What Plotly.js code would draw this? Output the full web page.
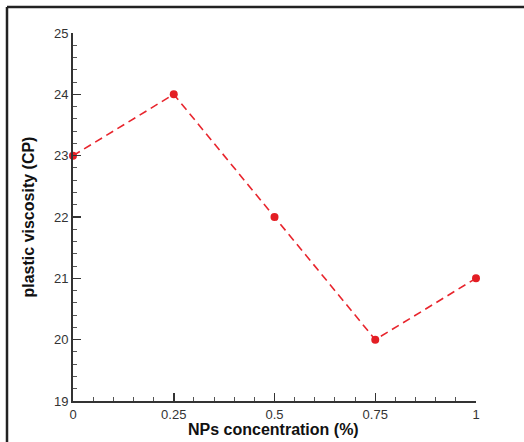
<!DOCTYPE html>
<html>
<head>
<meta charset="utf-8">
<script src="https://cdn.plot.ly/plotly-3.0.1.min.js"></script>
<style>
html,body{margin:0;padding:0;background:#fff;}
#chart{width:524px;height:442px;}
</style>
</head>
<body>
<div id="chart"></div>
<script>
var concentration = [0, 0.25, 0.5, 0.75, 1];
var viscosity = [23, 24, 22, 20, 21];
var xTickVals = [0, 0.25, 0.5, 0.75, 1];
var xTickText = ['0', '0.25', '0.5', '0.75', '1'];
var yTickVals = [19, 20, 21, 22, 23, 24, 25];
var xTitle = 'NPs concentration (%)';
var yTitle = 'plastic viscosity (CP)';

var trace = {
  x: concentration,
  y: viscosity,
  type: 'scatter',
  mode: 'lines+markers',
  cliponaxis: false,
  line: {color: '#e8252d', width: 1.6, dash: '8px,5px'},
  marker: {color: '#e31e24', size: 8},
  hoverinfo: 'none'
};

var axisFont = {family: 'Liberation Sans, Arial, sans-serif', size: 13, color: '#333'};
var titleFont = {family: 'Liberation Sans, Arial, sans-serif', size: 16, color: '#111', weight: 'bold'};

var W = 403, H = 368;

var layout = {
  width: 524,
  height: 442,
  margin: {l: 73, r: 48, t: 33, b: 41, pad: 0},
  paper_bgcolor: '#fff',
  plot_bgcolor: '#fff',
  showlegend: false,
  xaxis: {
    range: [0, 1],
    tickvals: xTickVals,
    ticktext: xTickText,
    ticks: 'inside',
    ticklen: 8,
    tickwidth: 1.5,
    tickcolor: '#333',
    showline: true,
    linecolor: '#333',
    linewidth: 2,
    showgrid: false,
    zeroline: false,
    tickfont: axisFont,
    minor: {dtick: 0.05, ticks: 'inside', ticklen: 4, tickwidth: 1, tickcolor: '#555', showgrid: false}
  },
  yaxis: {
    range: [19, 25],
    tickvals: yTickVals,
    ticks: 'inside',
    ticklen: 8,
    tickwidth: 1.5,
    tickcolor: '#333',
    showline: true,
    linecolor: '#333',
    linewidth: 2,
    showgrid: false,
    zeroline: false,
    tickfont: axisFont,
    minor: {dtick: 0.2, ticks: 'inside', ticklen: 4, tickwidth: 1, tickcolor: '#555', showgrid: false}
  },
  annotations: [
    {text: '<b>' + xTitle + '</b>', xref: 'paper', yref: 'paper', x: (273 - 73) / W, y: -(429.5 - 401) / H,
     xanchor: 'center', yanchor: 'middle', showarrow: false, font: titleFont},
    {text: '<b>' + yTitle + '</b>', xref: 'paper', yref: 'paper', x: -(73 - 27.5) / W, y: 0.5,
     xanchor: 'center', yanchor: 'middle', textangle: -90, showarrow: false, font: titleFont}
  ],
  shapes: [
    {type: 'line', xref: 'paper', yref: 'paper', x0: -66/W, x1: 451/W, y0: 1 + 26/H, y1: 1 + 26/H, line: {color: '#222', width: 2.5}},
    {type: 'line', xref: 'paper', yref: 'paper', x0: -66/W, x1: -66/W, y0: 1 + 26/H, y1: -41/H - 0.01, line: {color: '#222', width: 2.5}}
  ]
};

Plotly.newPlot('chart', [trace], layout, {staticPlot: true, displayModeBar: false});
</script>
</body>
</html>
